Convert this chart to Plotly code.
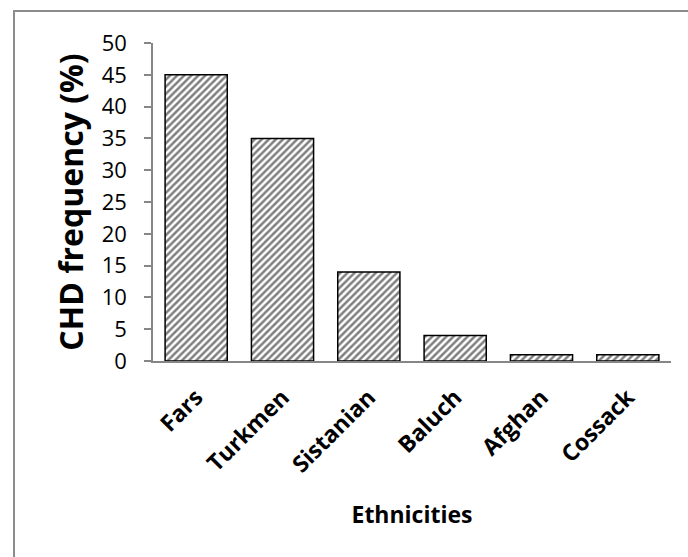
import plotly.graph_objects as go

categories = ["Fars", "Turkmen", "Sistanian", "Baluch", "Afghan", "Cossack"]
values = [45, 35, 14, 4, 1, 1]
y_ticks = [0, 5, 10, 15, 20, 25, 30, 35, 40, 45, 50]

W, H = 688, 557
L, R, T, B = 153, 17, 43, 196
pw, ph = W - L - R, H - T - B

def px_x(x):
    return (x - L) / pw

def px_y(y):
    return (H - B - y) / ph

fig = go.Figure(go.Bar(
    x=categories, y=values, width=0.72,
    marker=dict(
        color="white",
        line=dict(color="black", width=1.5),
        pattern=dict(shape="/", fgcolor="black", bgcolor="white", size=5, solidity=0.5),
    ),
))

axis_gray = "#868686"
fig.update_layout(
    width=W, height=H,
    margin=dict(l=L, r=R, t=T, b=B, autoexpand=False),
    paper_bgcolor="white", plot_bgcolor="white",
    showlegend=False, bargap=0.28,
    font=dict(family="Open Sans", color="black"),
    xaxis=dict(
        showline=True, linecolor=axis_gray, linewidth=1.5,
        ticks="", tickangle=-45, ticklabelstandoff=12,
        tickfont=dict(size=23, family="Open Sans", weight="bold", color="black"),
        title=dict(text="<b>Ethnicities</b>", font=dict(size=23, family="Open Sans", color="black"), standoff=29),
        automargin=False,
    ),
    yaxis=dict(
        range=[0, 50], tickvals=y_ticks, showgrid=False, zeroline=False,
        showline=True, linecolor=axis_gray, linewidth=1.5,
        ticks="outside", ticklen=7, tickcolor=axis_gray, tickwidth=1.5,
        ticklabelstandoff=13,
        tickfont=dict(size=22, family="Open Sans", color="black"),
        title=dict(text="<b>CHD frequency (%)</b>", font=dict(size=32, family="Open Sans", color="black"), standoff=8),
        automargin=False,
    ),
    shapes=[dict(
        type="rect", xref="paper", yref="paper",
        x0=px_x(14), x1=px_x(700), y0=px_y(570), y1=px_y(11),
        line=dict(color="#8c8c8c", width=2), fillcolor="rgba(0,0,0,0)", layer="below",
    )],
)

fig.write_html("out.html", config={"displayModeBar": False},
               post_script="document.body.style.margin='0';")
